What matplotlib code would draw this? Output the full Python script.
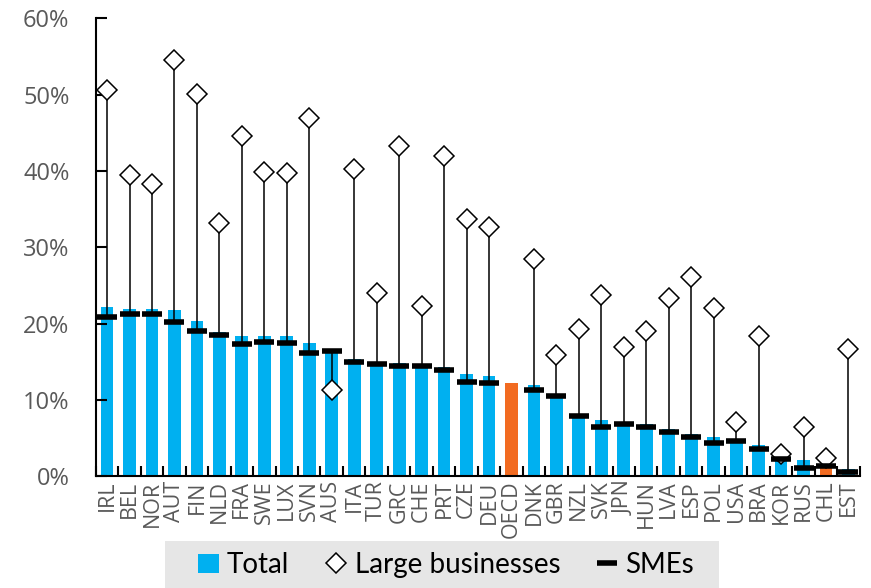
import numpy as np
import matplotlib
matplotlib.use("Agg")
import matplotlib.pyplot as plt
from matplotlib.patches import Patch, Rectangle
from matplotlib.lines import Line2D
from matplotlib.ticker import FuncFormatter, FixedLocator

countries = ["IRL", "BEL", "NOR", "AUT", "FIN", "NLD", "FRA", "SWE", "LUX", "SVN",
             "AUS", "ITA", "TUR", "GRC", "CHE", "PRT", "CZE", "DEU", "OECD", "DNK",
             "GBR", "NZL", "SVK", "JPN", "HUN", "LVA", "ESP", "POL", "USA", "BRA",
             "KOR", "RUS", "CHL", "EST"]

total = [22.2, 21.9, 21.9, 21.8, 20.3, 18.9, 18.4, 18.4, 18.4, 17.4,
         16.4, 15.3, 15.0, 14.9, 14.5, 14.3, 13.4, 13.1, 12.2, 11.9,
         10.7, 8.0, 7.4, 7.1, 6.9, 6.2, 5.6, 5.1, 4.8, 4.1,
         2.7, 2.1, 1.4, 0.9]

# no split for the OECD average
smes = [20.9, 21.3, 21.2, 20.2, 19.0, 18.5, 17.3, 17.6, 17.4, 16.2,
        16.4, 15.0, 14.7, 14.5, 14.4, 13.9, 12.4, 12.2, np.nan, 11.3,
        10.5, 7.9, 6.5, 6.8, 6.4, 5.8, 5.1, 4.4, 4.6, 3.6,
        2.3, 1.1, 1.35, 0.6]

large = [50.6, 39.4, 38.3, 54.5, 50.1, 33.2, 44.6, 39.9, 39.7, 46.9,
         11.3, 40.3, 24.0, 43.2, 22.3, 42.0, 33.7, 32.6, np.nan, 28.5,
         15.9, 19.3, 23.7, 16.9, 19.0, 23.3, 26.1, 22.0, 7.1, 18.4,
         2.9, 6.4, 2.4, 16.7]

highlight = ["OECD", "CHL"]

BLUE = "#00B0F0"
ORANGE = "#F26B21"
GREY = "#595959"


def main():
    plt.rcParams["font.family"] = ["Open Sans", "DejaVu Sans"]
    fig = plt.figure(figsize=(8.71, 5.88), dpi=100)
    ax = fig.add_axes([0.110, 0.190, 0.877, 0.779])

    x = np.arange(len(countries))
    colors = [ORANGE if c in highlight else BLUE for c in countries]
    ax.bar(x, total, width=0.57, color=colors, zorder=1)

    # line between SME and large-business value
    for xi, s, l in zip(x, smes, large):
        if np.isnan(s):
            continue
        ax.plot([xi, xi], [s, l], color="black", lw=1.1, zorder=2)

    ax.plot(x, large, linestyle="none", marker="D", markersize=10,
            markerfacecolor="white", markeredgecolor="black", markeredgewidth=1.1, zorder=3)
    ax.plot(x, smes, linestyle="none", marker="_", markersize=15,
            markeredgewidth=4, color="black", zorder=4)

    ax.set_xlim(-0.5, len(countries) - 0.5)
    ax.set_ylim(0, 60)
    ax.set_yticks(np.arange(0, 61, 10))
    ax.yaxis.set_major_formatter(FuncFormatter(lambda v, p: f"{v:.0f}%"))
    ax.set_xticks(x)
    ax.set_xticklabels(countries, rotation=90, fontsize=15.5, color=GREY)
    ax.xaxis.set_minor_locator(FixedLocator(np.arange(-0.5, len(countries), 1.0)))
    ax.tick_params(axis="x", which="major", length=0, pad=3)
    ax.tick_params(axis="x", which="minor", direction="in", length=7, width=1.5)
    ax.tick_params(axis="y", direction="in", length=8, width=1.5, labelsize=17,
                   labelcolor=GREY, pad=19)

    for side in ["top", "right"]:
        ax.spines[side].set_visible(False)
    for side in ["left", "bottom"]:
        ax.spines[side].set_linewidth(1.5)

    # grey legend band
    fig.patches.append(Rectangle((165 / 871, -0.02), 554 / 871, 47 / 588 + 0.02,
                                 transform=fig.transFigure, facecolor="#E6E6E6",
                                 edgecolor="none", zorder=0))
    handles = [
        Patch(facecolor=BLUE, edgecolor="none"),
        Line2D([], [], linestyle="none", marker="D", markersize=10,
               markerfacecolor="white", markeredgecolor="black", markeredgewidth=1.1),
        Line2D([], [], linestyle="none", marker="_", markersize=14,
               markeredgewidth=4, color="black"),
    ]
    fig.legend(handles, ["Total", "Large businesses", "SMEs"], loc="center",
               bbox_to_anchor=(446 / 871, 1 - 565 / 588), ncol=3, frameon=False,
               prop={"family": "Lato", "size": 20}, handlelength=0.75,
               handletextpad=0.3, columnspacing=1.3, borderpad=0)

    fig.savefig("out.png", dpi=100)


if __name__ == "__main__":
    main()
